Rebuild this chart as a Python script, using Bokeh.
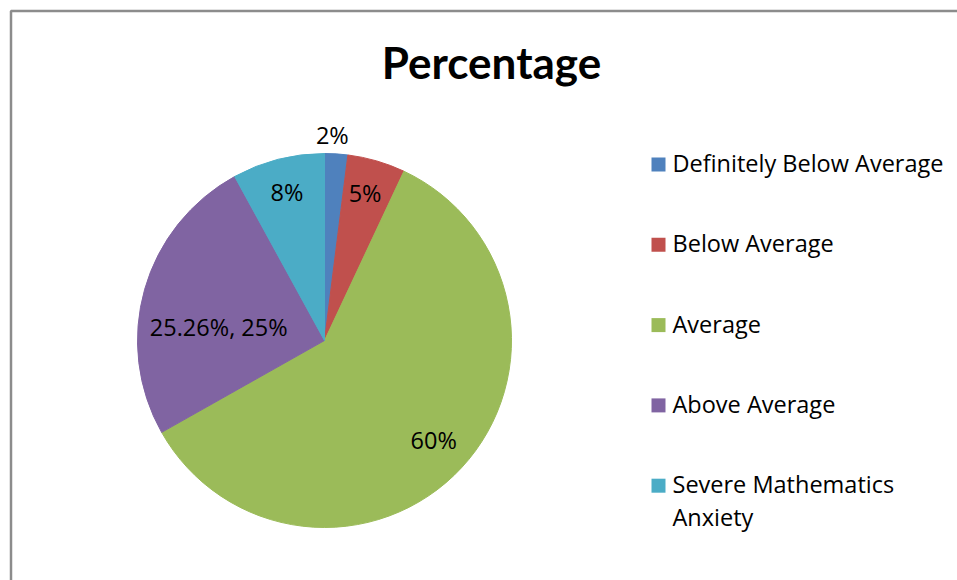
import math
from bokeh.plotting import figure
from bokeh.models import ColumnDataSource, Range1d
from bokeh.core.properties import value
from bokeh.embed import file_html
from bokeh.resources import INLINE

# ---------------- data ----------------
title_text = "Percentage"
categories = ["Definitely Below Average", "Below Average", "Average",
              "Above Average", "Severe Mathematics Anxiety"]
legend_text = ["Definitely Below Average", "Below Average", "Average",
               "Above Average", "Severe Mathematics\nAnxiety"]
values = [2, 5, 60, 25.26, 8]
value_labels = ["2%", "5%", "60%", "25.26%, 25%", "8%"]
colors = ["#4F81BD", "#C0504D", "#9BBB59", "#8064A2", "#4BACC6"]

# ---------------- layout (pixel space) ----------------
W, H = 957, 580
FONT = "Open Sans"
TITLE_FONT = "Lato"
cx, cy_img, R = 324, 340, 187
label_r = [1.10, 0.82, 0.79, 0.57, 0.82]      # radial placement of data labels (fraction of R)
label_dtheta = [-1.4, -0.8, -0.5, -8.9, 0.2]  # small angular nudges (deg)
legend_sq_x, legend_txt_x = 658, 672
legend_row0, legend_step, legend_line = 162.5, 80.3, 33

def Y(y_img):
    return H - y_img

p = figure(width=W, height=H, output_backend="svg", toolbar_location=None,
           x_range=Range1d(0, W), y_range=Range1d(0, H),
           x_axis_location=None, y_axis_location=None,
           min_border=0, outline_line_color=None, background_fill_color="white",
           border_fill_color="white")
p.grid.visible = False

# chart frame (left and top edges visible in reference)
p.line([10.5, 10.5, W], [0, Y(10.5), Y(10.5)], line_color="#8c8c8c", line_width=2.5)

# ---------------- pie ----------------
total = sum(values)
cum = [0.0]
for v in values:
    cum.append(cum[-1] + v / total)
starts = [math.pi / 2 - 2 * math.pi * a for a in cum[:-1]]
ends = [math.pi / 2 - 2 * math.pi * a for a in cum[1:]]
src = ColumnDataSource(dict(start=starts, end=ends, color=colors, cat=categories))
p.wedge(x=cx, y=Y(cy_img), radius=R, start_angle="start", end_angle="end",
        direction="clock", fill_color="color", line_color="color", line_width=1,
        source=src)

# data labels
fs = 23.5
lx, ly = [], []
for i in range(len(values)):
    mid = (cum[i] + cum[i + 1]) / 2 * 360 + label_dtheta[i]
    th = math.radians(mid)
    x = cx + label_r[i] * R * math.sin(th)
    y_img = cy_img - label_r[i] * R * math.cos(th)
    lx.append(x)
    ly.append(Y(y_img))
p.text(x=lx, y=ly, text=value_labels, text_align="center", text_baseline="middle",
       text_font=value(FONT), text_font_size=f"{fs}px", text_color="black")

# title
p.text(x=[491], y=[Y(61)], text=[title_text], text_align="center", text_baseline="middle",
       text_font=value(TITLE_FONT), text_font_size="44px", text_font_style="bold", text_color="black")

# ---------------- legend ----------------
sq_x, sq_y, tx, ty, tt = [], [], [], [], []
for i, lab in enumerate(legend_text):
    row = legend_row0 + i * legend_step
    sq_x.append(legend_sq_x)
    sq_y.append(Y(row + 1.5))
    for j, line in enumerate(lab.split("\n")):
        tx.append(legend_txt_x)
        ty.append(Y(row + j * legend_line))
        tt.append(line)
p.scatter(x=sq_x, y=sq_y, marker="square", size=14, fill_color=colors, line_color=None)
p.text(x=tx, y=ty, text=tt, text_align="left", text_baseline="middle",
       text_font=value(FONT), text_font_size=f"{fs}px", text_color="black")

open("out.html", "w").write(file_html(p, INLINE))
